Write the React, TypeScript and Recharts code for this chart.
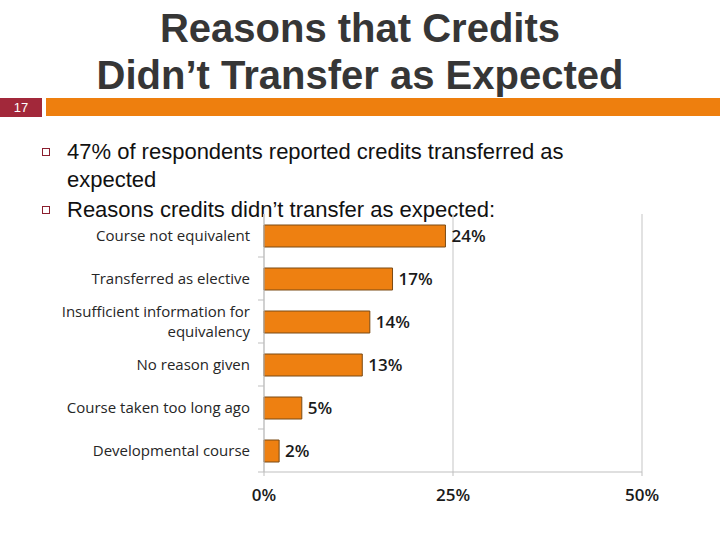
import React from "react";
import { BarChart, Bar, XAxis, YAxis, CartesianGrid, LabelList } from "recharts";

const reasons = [
  "Course not equivalent",
  "Transferred as elective",
  "Insufficient information for equivalency",
  "No reason given",
  "Course taken too long ago",
  "Developmental course",
];
const shares = [24, 17, 14, 13, 5, 2];
const xTicks = [0, 25, 50];

const titleLines = ["Reasons that Credits", "Didn\u2019t Transfer as Expected"];
const bulletLines = [
  ["47% of respondents reported credits transferred as", "expected"],
  ["Reasons credits didn\u2019t transfer as expected:"],
];

const data = reasons.map((reason, i) => ({ reason, share: shares[i] }));

const CHART_W = 720;
const CHART_H = 540;
const margin = { top: 214, right: 78, left: 0, bottom: 38 };
const plotH = CHART_H - margin.top - margin.bottom - 30;
const halfBand = plotH / reasons.length / 2;

const labelFont = "'Open Sans', 'DejaVu Sans', sans-serif";

// split long category names over two lines like the original
const wrap = (s: string, max = 28) => {
  const words = s.split(" ");
  const lines: string[] = [];
  let cur = "";
  words.forEach((w) => {
    const next = cur ? cur + " " + w : w;
    if (next.length > max && cur) {
      lines.push(cur);
      cur = w;
    } else {
      cur = next;
    }
  });
  if (cur) lines.push(cur);
  return lines;
};

const ReasonTick = (props: any) => {
  const { x, y, payload } = props;
  const lines = wrap(payload.value);
  const lh = 20;
  const start = -((lines.length - 1) * lh) / 2;
  return (
    <g>
      <line x1={x + 8} x2={x + 14} y1={y + halfBand} y2={y + halfBand} stroke="#bfbfbf" />
      <text
        x={x}
        y={y}
        textAnchor="end"
        fill="#262626"
        fontSize={15}
        fontFamily={labelFont}
      >
        {lines.map((l, i) => (
          <tspan key={i} x={x} dy={i === 0 ? start + 5 : lh}>
            {l}
          </tspan>
        ))}
      </text>
    </g>
  );
};

export default function App() {
  return (
    <div
      style={{
        position: "absolute",
        top: 0,
        left: 0,
        width: 720,
        height: 540,
        background: "#fff",
        overflow: "hidden",
        fontFamily: "'Liberation Sans', Arial, sans-serif",
      }}
    >
      {titleLines.map((t, i) => (
        <div
          key={t}
          style={{
            position: "absolute",
            left: 0,
            width: 720,
            top: 5 + i * 47,
            textAlign: "center",
            fontSize: 40,
            fontWeight: "bold",
            color: "#363636",
            lineHeight: "46px",
            whiteSpace: "nowrap",
          }}
        >
          {t}
        </div>
      ))}

      <div
        style={{
          position: "absolute",
          left: 0,
          top: 98,
          width: 42,
          height: 19,
          background: "#a2283a",
          color: "#fff",
          fontSize: 13,
          lineHeight: "19px",
          textAlign: "center",
        }}
      >
        17
      </div>
      <div
        style={{
          position: "absolute",
          left: 46,
          top: 98,
          width: 674,
          height: 18,
          background: "#ee7f0e",
        }}
      />

      {bulletLines.map((lines, bi) => (
        <div key={bi}>
          <div
            style={{
              position: "absolute",
              left: 42,
              top: bi === 0 ? 148 : 206,
              width: 6,
              height: 6,
              border: "1px solid #8b1e2e",
            }}
          />
          {lines.map((l, li) => (
            <div
              key={li}
              style={{
                position: "absolute",
                left: 67,
                top: (bi === 0 ? 139 : 197) + li * 28,
                fontSize: 22,
                lineHeight: "26px",
                color: "#111",
                whiteSpace: "nowrap",
              }}
            >
              {l}
            </div>
          ))}
        </div>
      ))}

      <div style={{ position: "absolute", left: 0, top: 0 }}>
        <BarChart
          width={CHART_W}
          height={CHART_H}
          data={data}
          layout="vertical"
          margin={margin}
        >
          <CartesianGrid horizontal={false} stroke="#d9d9d9" strokeWidth={1.5} />
          <XAxis
            type="number"
            domain={[0, 50]}
            ticks={xTicks}
            height={30}
            tickFormatter={(v: number) => `${v}%`}
            axisLine={{ stroke: "#bfbfbf" }}
            tickLine={{ stroke: "#bfbfbf" }}
            tickSize={4}
            tickMargin={13}
            tick={{
              fill: "#1a1a1a",
              fontSize: 17,
              fontWeight: 600,
              fontFamily: labelFont,
            }}
          />
          <YAxis
            type="category"
            dataKey="reason"
            width={264}
            axisLine={{ stroke: "#bfbfbf" }}
            tickLine={false}
            tickSize={6}
            tickMargin={8}
            interval={0}
            tick={<ReasonTick />}
          />
          <Bar
            dataKey="share"
            fill="#ee8011"
            stroke="#7a4a14"
            strokeWidth={1}
            barSize={22}
            isAnimationActive={false}
          >
            <LabelList
              dataKey="share"
              position="right"
              offset={6}
              formatter={(v: any) => `${v}%`}
              fill="#1a1a1a"
              fontSize={17}
              fontWeight={600}
              fontFamily={labelFont}
            />
          </Bar>
        </BarChart>
      </div>
    </div>
  );
}
